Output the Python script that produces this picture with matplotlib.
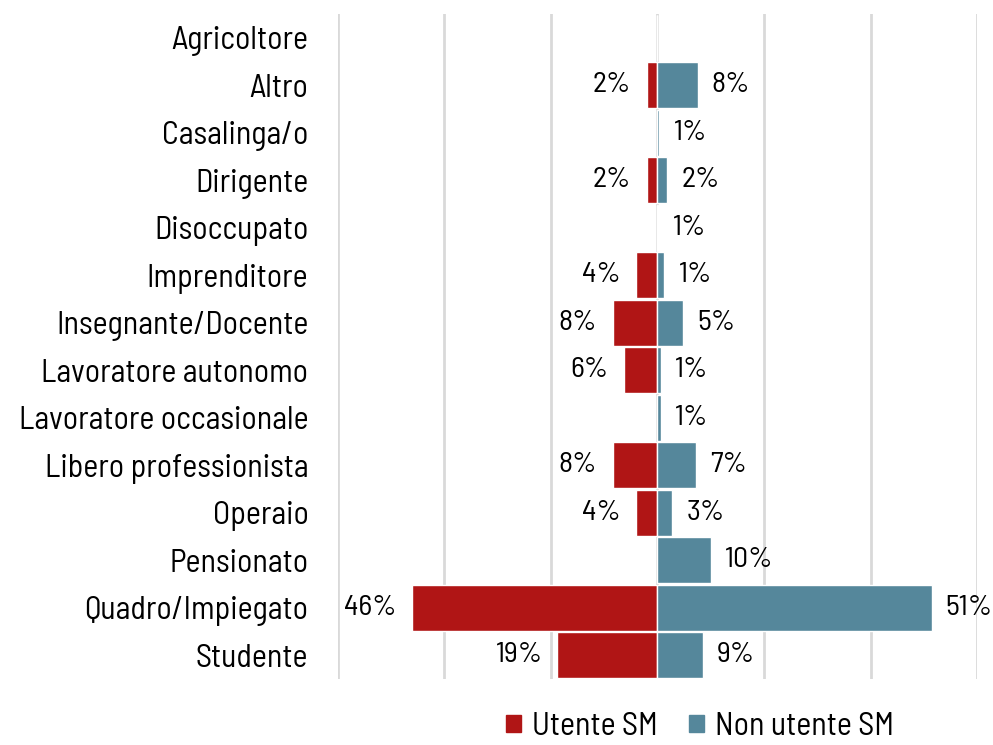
import matplotlib.pyplot as plt
from matplotlib.patches import Patch

categories = ["Agricoltore", "Altro", "Casalinga/o", "Dirigente", "Disoccupato",
              "Imprenditore", "Insegnante/Docente", "Lavoratore autonomo",
              "Lavoratore occasionale", "Libero professionista", "Operaio",
              "Pensionato", "Quadro/Impiegato", "Studente"]
utente = [0, 2, 0, 2, 0, 4, 8.4, 6.2, 0, 8.4, 4, 0, 46, 18.8]
non_utente = [0, 7.6, 0.4, 1.9, 0.1, 1.2, 4.9, 0.6, 0.6, 7.3, 2.8, 10, 51.5, 8.5]
utente_lbl = ["", "2%", "", "2%", "", "4%", "8%", "6%", "", "8%", "4%", "", "46%", "19%"]
non_utente_lbl = ["", "8%", "1%", "2%", "1%", "1%", "5%", "1%", "1%", "7%", "3%", "10%", "51%", "9%"]

RED = "#B01515"
BLUE = "#55879B"

plt.rcParams['font.family'] = ['Barlow Semi Condensed', 'DejaVu Sans']

fig = plt.figure(figsize=(9.93, 7.45), dpi=100)
ax = fig.add_axes([0.340, 0.0886, 0.644, 0.8926])

y = list(range(len(categories)))
ax.barh(y, [-v for v in utente], height=0.97, color=RED, edgecolor="white", linewidth=1, zorder=3)
ax.barh(y, non_utente, height=0.97, color=BLUE, edgecolor="white", linewidth=1, zorder=3)

for i in y:
    if utente_lbl[i]:
        ax.text(-utente[i] - 2.9, i, utente_lbl[i], ha="right", va="center", fontsize=21.5)
    if non_utente_lbl[i]:
        ax.text(non_utente[i] + 2.6, i, non_utente_lbl[i], ha="left", va="center", fontsize=21.5)

ax.set_xlim(-60, 60)
ax.set_ylim(len(categories) - 0.5, -0.5)
ax.set_xticks([-60, -40, -20, 0, 20, 40, 60])
ax.grid(axis="x", color="#D9D9D9", linewidth=2, zorder=0)
ax.tick_params(axis="x", labelbottom=False, length=0)
ax.tick_params(axis="y", length=0, pad=21, labelsize=23)
ax.set_yticks(y)
ax.set_yticklabels(categories)
for s in ax.spines.values():
    s.set_visible(False)

handles = [Patch(color=RED, label="Utente SM"), Patch(color=BLUE, label="Non utente SM")]
fig.legend(handles=handles, loc="center", bbox_to_anchor=(0.705, 0.024), ncol=2,
           frameon=False, fontsize=23, handlelength=0.45, handleheight=0.45,
           handletextpad=0.35, columnspacing=1.0, borderpad=0)

fig.savefig("out.png")
